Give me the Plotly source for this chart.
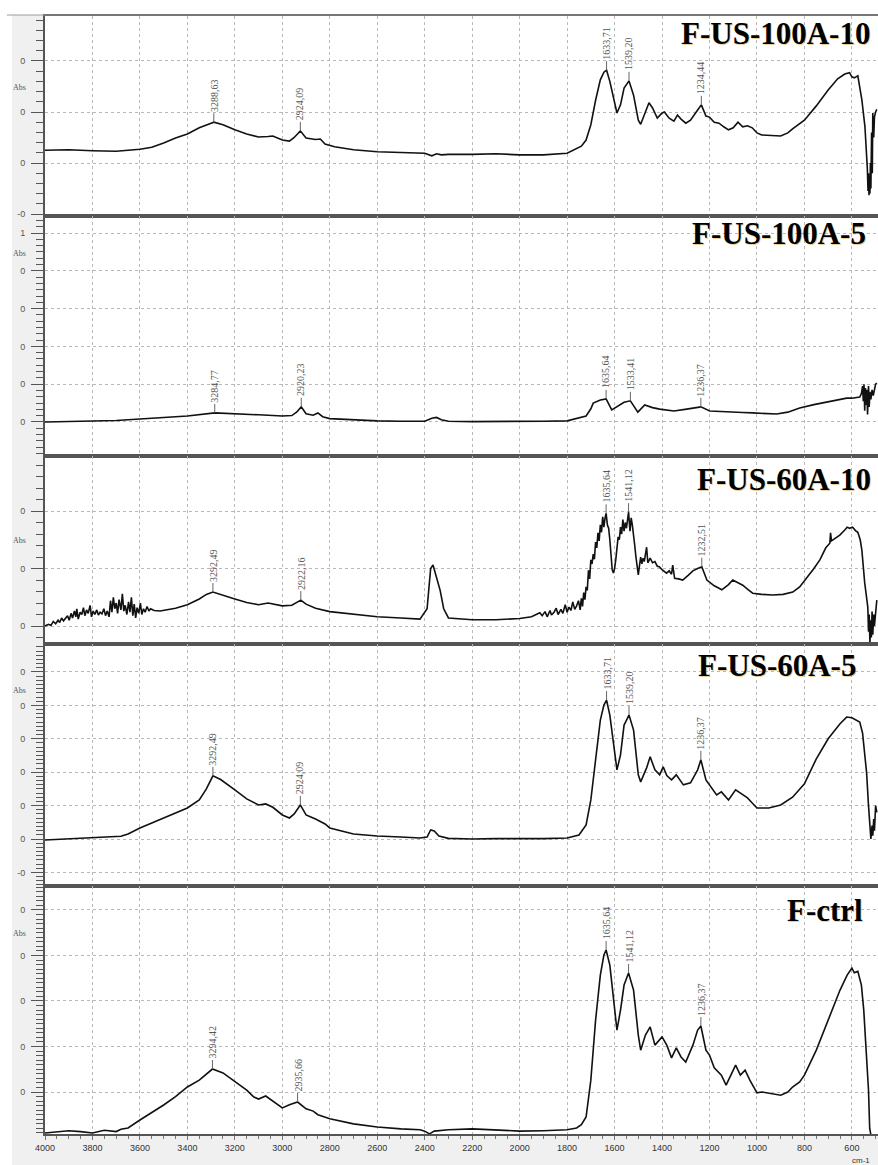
import plotly.graph_objects as go

# ---------------------------------------------------------------------------
# FTIR spectra (wavenumber cm-1, absorbance) for five film samples
# ---------------------------------------------------------------------------
SAMPLES = ["F-US-100A-10", "F-US-100A-5", "F-US-60A-10", "F-US-60A-5", "F-ctrl"]

spec_100a_10 = [
    (4000, 0.025), (3900, 0.026), (3800, 0.024), (3700, 0.023), (3600, 0.027),
    (3550, 0.031), (3500, 0.039), (3450, 0.049), (3400, 0.057), (3350, 0.069),
    (3300, 0.078), (3288.63, 0.080), (3250, 0.075), (3200, 0.065), (3150, 0.057),
    (3100, 0.051), (3060, 0.052), (3040, 0.053), (3000, 0.045), (2970, 0.043),
    (2950, 0.050), (2924.09, 0.063), (2900, 0.049), (2880, 0.047), (2860, 0.046),
    (2840, 0.047), (2820, 0.037), (2780, 0.032), (2700, 0.026), (2600, 0.022),
    (2500, 0.020), (2400, 0.019), (2370, 0.014), (2350, 0.018), (2330, 0.016),
    (2300, 0.017), (2200, 0.017), (2100, 0.018), (2000, 0.016), (1900, 0.016),
    (1800, 0.019), (1760, 0.029), (1740, 0.033), (1720, 0.045), (1700, 0.075),
    (1680, 0.123), (1660, 0.163), (1645, 0.178), (1633.71, 0.182), (1620, 0.160),
    (1600, 0.114), (1590, 0.098), (1575, 0.114), (1560, 0.147), (1539.20, 0.161),
    (1520, 0.133), (1500, 0.084), (1490, 0.076), (1470, 0.100), (1455, 0.118),
    (1440, 0.108), (1420, 0.088), (1400, 0.098), (1390, 0.100), (1370, 0.088),
    (1350, 0.082), (1335, 0.094), (1320, 0.086), (1300, 0.078), (1280, 0.084),
    (1250, 0.104), (1234.44, 0.114), (1215, 0.092), (1200, 0.090), (1180, 0.080),
    (1160, 0.078), (1140, 0.071), (1120, 0.065), (1100, 0.069), (1080, 0.080),
    (1060, 0.071), (1040, 0.073), (1020, 0.069), (1000, 0.059), (980, 0.055),
    (950, 0.054), (900, 0.053), (870, 0.059), (850, 0.067), (800, 0.084),
    (750, 0.112), (700, 0.143), (660, 0.165), (630, 0.1745), (610, 0.177),
    (600, 0.169), (590, 0.167), (575, 0.171), (558, 0.124), (545, 0.071),
    (540, 0.040), (535, -0.010), (532, -0.055), (530, -0.020), (528, -0.063),
    (526, -0.030), (524, -0.060), (522, 0.000), (520, -0.050), (517, 0.060),
    (514, -0.020), (512, 0.098), (508, 0.050), (505, 0.090), (500, 0.100),
    (495, 0.105),
]

spec_100a_5 = [
    (4000, 0.000), (3900, 0.001), (3800, 0.002), (3700, 0.004), (3600, 0.008),
    (3500, 0.012), (3400, 0.016), (3284.77, 0.024), (3200, 0.021), (3100, 0.019),
    (3000, 0.016), (2960, 0.017), (2940, 0.026), (2920.23, 0.040), (2900, 0.022),
    (2870, 0.018), (2850, 0.024), (2830, 0.014), (2800, 0.009), (2700, 0.005),
    (2600, 0.003), (2500, 0.002), (2400, 0.002), (2370, 0.010), (2350, 0.012),
    (2330, 0.006), (2300, 0.002), (2200, 0.001), (2100, 0.001), (2000, 0.001),
    (1900, 0.002), (1800, 0.003), (1770, 0.008), (1746, 0.013), (1720, 0.016),
    (1700, 0.035), (1690, 0.050), (1660, 0.058), (1635.64, 0.061), (1612, 0.032),
    (1590, 0.040), (1560, 0.052), (1533.41, 0.056), (1502, 0.026), (1473, 0.045),
    (1440, 0.038), (1410, 0.034), (1350, 0.029), (1296, 0.034), (1236.37, 0.040),
    (1199, 0.029), (1150, 0.027), (1102, 0.026), (1060, 0.025), (1018, 0.024),
    (917, 0.021), (870, 0.026), (820, 0.037), (760, 0.046), (706, 0.053),
    (660, 0.059), (622, 0.063), (600, 0.063), (580, 0.066), (567, 0.066),
    (560, 0.075), (555, 0.095), (552, 0.055), (549, 0.100), (546, 0.030),
    (543, 0.090), (540, 0.045), (537, 0.085), (534, 0.020), (530, 0.095),
    (527, 0.040), (524, 0.080), (520, 0.060), (515, 0.085), (510, 0.070),
    (505, 0.090), (500, 0.100), (495, 0.103),
]

spec_60a_10 = [
    (4000, 0.000), (3985, 0.003), (3975, 0.001), (3965, 0.008), (3955, 0.004),
    (3945, 0.010), (3938, 0.006), (3930, 0.014), (3922, 0.009), (3915, 0.012),
    (3905, 0.018), (3898, 0.010), (3890, 0.022), (3884, 0.014), (3876, 0.026),
    (3870, 0.016), (3866, 0.030), (3860, 0.012), (3852, 0.024), (3845, 0.020),
    (3838, 0.032), (3832, 0.018), (3825, 0.028), (3818, 0.022), (3810, 0.036),
    (3804, 0.016), (3797, 0.026), (3790, 0.020), (3782, 0.028), (3775, 0.019),
    (3768, 0.024), (3760, 0.021), (3752, 0.030), (3745, 0.018), (3738, 0.026),
    (3730, 0.016), (3724, 0.044), (3718, 0.024), (3712, 0.050), (3706, 0.030),
    (3700, 0.040), (3694, 0.022), (3688, 0.046), (3680, 0.028), (3674, 0.056),
    (3668, 0.026), (3662, 0.036), (3655, 0.020), (3648, 0.042), (3642, 0.024),
    (3636, 0.050), (3630, 0.018), (3624, 0.038), (3618, 0.014), (3612, 0.032),
    (3605, 0.022), (3598, 0.040), (3592, 0.020), (3585, 0.030), (3578, 0.024),
    (3570, 0.034), (3562, 0.026), (3555, 0.030), (3540, 0.027), (3515, 0.026),
    (3450, 0.031), (3400, 0.037), (3350, 0.047), (3320, 0.055), (3292.49, 0.059),
    (3250, 0.053), (3200, 0.047), (3150, 0.041), (3100, 0.037), (3060, 0.040),
    (3030, 0.038), (3000, 0.035), (2960, 0.036), (2940, 0.040), (2922.16, 0.045),
    (2900, 0.038), (2860, 0.031), (2800, 0.025), (2700, 0.020), (2600, 0.016),
    (2500, 0.014), (2420, 0.012), (2390, 0.030), (2375, 0.100), (2365, 0.106),
    (2355, 0.090), (2345, 0.078), (2335, 0.062), (2320, 0.030), (2300, 0.014),
    (2200, 0.011), (2100, 0.011), (2000, 0.013), (1950, 0.016), (1915, 0.023),
    (1905, 0.018), (1893, 0.025), (1884, 0.016), (1872, 0.027), (1866, 0.019),
    (1855, 0.024), (1846, 0.031), (1838, 0.020), (1826, 0.029), (1818, 0.022),
    (1808, 0.037), (1800, 0.024), (1792, 0.033), (1784, 0.027), (1776, 0.042),
    (1768, 0.029), (1760, 0.035), (1752, 0.044), (1745, 0.028), (1740, 0.048),
    (1735, 0.034), (1730, 0.058), (1725, 0.046), (1720, 0.068), (1715, 0.062),
    (1710, 0.097), (1705, 0.082), (1700, 0.115), (1695, 0.108), (1690, 0.125),
    (1685, 0.116), (1680, 0.146), (1675, 0.136), (1670, 0.162), (1665, 0.148),
    (1660, 0.176), (1655, 0.163), (1650, 0.190), (1645, 0.172), (1640, 0.188),
    (1635.64, 0.196), (1630, 0.175), (1625, 0.170), (1620, 0.150), (1615, 0.120),
    (1610, 0.098), (1605, 0.092), (1600, 0.100), (1595, 0.115), (1590, 0.140),
    (1585, 0.155), (1580, 0.150), (1575, 0.172), (1570, 0.160), (1565, 0.185),
    (1560, 0.165), (1555, 0.180), (1550, 0.170), (1545, 0.190), (1541.12, 0.198),
    (1535, 0.165), (1530, 0.188), (1525, 0.175), (1520, 0.160), (1515, 0.140),
    (1510, 0.120), (1505, 0.100), (1500, 0.089), (1495, 0.105), (1490, 0.120),
    (1485, 0.108), (1480, 0.118), (1475, 0.112), (1470, 0.125), (1465, 0.137),
    (1460, 0.110), (1450, 0.118), (1440, 0.110), (1430, 0.112), (1420, 0.104),
    (1412, 0.103), (1400, 0.098), (1390, 0.095), (1381, 0.092), (1370, 0.096),
    (1360, 0.090), (1355, 0.106), (1347, 0.083), (1330, 0.082), (1313, 0.080),
    (1290, 0.088), (1270, 0.096), (1250, 0.100), (1232.51, 0.103), (1211, 0.080),
    (1180, 0.070), (1148, 0.063), (1120, 0.072), (1102, 0.080), (1080, 0.075),
    (1060, 0.071), (1040, 0.064), (1018, 0.057), (980, 0.055), (934, 0.054),
    (890, 0.055), (849, 0.059), (820, 0.068), (790, 0.083), (760, 0.100),
    (735, 0.115), (710, 0.136), (693, 0.144), (690, 0.162), (686, 0.148),
    (670, 0.152), (651, 0.158), (630, 0.167), (620, 0.172), (610, 0.170),
    (597, 0.172), (585, 0.166), (575, 0.163), (565, 0.150), (558, 0.132),
    (546, 0.075), (540, 0.050), (533, 0.033), (530, -0.010), (527, 0.020),
    (524, -0.030), (521, 0.010), (518, -0.020), (515, 0.025), (512, -0.015),
    (508, 0.020), (505, 0.000), (500, 0.030), (495, 0.045),
]

spec_60a_5 = [
    (4000, -0.003), (3900, 0.000), (3850, 0.002), (3800, 0.004), (3750, 0.004),
    (3700, 0.007), (3680, 0.008), (3650, 0.015), (3600, 0.033), (3550, 0.048),
    (3500, 0.063), (3450, 0.078), (3400, 0.093), (3350, 0.117), (3320, 0.150),
    (3292.49, 0.189), (3260, 0.178), (3200, 0.147), (3150, 0.120), (3100, 0.102),
    (3070, 0.105), (3040, 0.095), (3000, 0.072), (2970, 0.063), (2950, 0.075),
    (2924.09, 0.102), (2900, 0.072), (2880, 0.066), (2860, 0.060), (2820, 0.045),
    (2800, 0.033), (2700, 0.015), (2600, 0.009), (2500, 0.006), (2420, 0.003),
    (2390, 0.006), (2375, 0.027), (2360, 0.024), (2340, 0.009), (2300, 0.002),
    (2200, 0.000), (2100, 0.001), (2000, 0.000), (1900, 0.001), (1800, 0.003),
    (1750, 0.012), (1720, 0.042), (1700, 0.117), (1680, 0.237), (1660, 0.356),
    (1645, 0.401), (1633.71, 0.416), (1620, 0.371), (1600, 0.252), (1590, 0.207),
    (1575, 0.252), (1560, 0.341), (1539.20, 0.371), (1520, 0.326), (1500, 0.192),
    (1490, 0.171), (1465, 0.213), (1450, 0.246), (1430, 0.207), (1410, 0.192),
    (1395, 0.216), (1380, 0.190), (1360, 0.177), (1340, 0.192), (1310, 0.162),
    (1280, 0.168), (1250, 0.207), (1236.37, 0.237), (1215, 0.177), (1200, 0.162),
    (1170, 0.132), (1150, 0.141), (1120, 0.117), (1090, 0.147), (1060, 0.132),
    (1040, 0.123), (1020, 0.108), (1000, 0.093), (950, 0.093), (900, 0.102),
    (850, 0.125), (800, 0.165), (750, 0.240), (700, 0.300), (650, 0.345),
    (622, 0.365), (600, 0.363), (580, 0.356), (567, 0.350), (555, 0.317),
    (545, 0.250), (538, 0.198), (530, 0.100), (525, 0.050), (520, 0.000),
    (515, 0.040), (512, 0.010), (508, 0.060), (505, 0.025), (500, 0.100),
    (495, 0.080),
]

spec_ctrl = [
    (4000, -0.090), (3950, -0.088), (3900, -0.085), (3850, -0.087), (3800, -0.090),
    (3750, -0.084), (3700, -0.087), (3680, -0.082), (3650, -0.079), (3600, -0.0615),
    (3550, -0.045), (3500, -0.0286), (3450, -0.010), (3400, 0.011), (3350, 0.026),
    (3320, 0.040), (3294.42, 0.0505), (3250, 0.042), (3200, 0.022), (3150, 0.004),
    (3120, -0.011), (3100, -0.0154), (3070, -0.0088), (3040, -0.020), (3000, -0.035),
    (2970, -0.028), (2935.66, -0.022), (2900, -0.037), (2870, -0.042), (2850, -0.050),
    (2800, -0.059), (2700, -0.070), (2600, -0.077), (2500, -0.081), (2420, -0.083),
    (2400, -0.086), (2380, -0.092), (2360, -0.086), (2300, -0.083), (2200, -0.081),
    (2100, -0.083), (2000, -0.086), (1900, -0.085), (1800, -0.083), (1760, -0.079),
    (1740, -0.072), (1720, -0.055), (1710, -0.018), (1700, 0.026), (1680, 0.158),
    (1660, 0.257), (1645, 0.301), (1635.64, 0.312), (1620, 0.279), (1600, 0.180),
    (1590, 0.136), (1575, 0.180), (1560, 0.235), (1541.12, 0.2615), (1520, 0.224),
    (1500, 0.125), (1490, 0.092), (1470, 0.125), (1450, 0.143), (1430, 0.103),
    (1400, 0.121), (1380, 0.103), (1360, 0.075), (1340, 0.097), (1320, 0.077),
    (1300, 0.066), (1270, 0.103), (1250, 0.136), (1236.37, 0.145), (1215, 0.092),
    (1200, 0.081), (1180, 0.053), (1150, 0.037), (1130, 0.015), (1110, 0.037),
    (1090, 0.059), (1070, 0.037), (1050, 0.048), (1030, 0.026), (1000, -0.002),
    (980, 0.000), (950, -0.002), (900, -0.007), (870, 0.000), (850, 0.011),
    (820, 0.022), (800, 0.037), (750, 0.092), (700, 0.158), (650, 0.224),
    (620, 0.257), (600, 0.2725), (590, 0.262), (575, 0.265), (560, 0.235),
    (550, 0.180), (540, 0.092), (530, 0.004), (525, -0.080), (522, -0.094),
    (520, -0.094),
]

SPECTRA = [spec_100a_10, spec_100a_5, spec_60a_10, spec_60a_5, spec_ctrl]

# labelled band positions (cm-1) for each sample
PEAKS = [
    [3288.63, 2924.09, 1633.71, 1539.20, 1234.44],
    [3284.77, 2920.23, 1635.64, 1533.41, 1236.37],
    [3292.49, 2922.16, 1635.64, 1541.12, 1232.51],
    [3292.49, 2924.09, 1633.71, 1539.20, 1236.37],
    [3294.42, 2935.66, 1635.64, 1541.12, 1236.37],
]

# absorbance axis: tick positions and the (rounded) labels printed by the instrument
Y_TICKVALS = [
    [0.2, 0.1, 0.0, -0.1],
    [0.5, 0.4, 0.3, 0.2, 0.1, 0.0],
    [0.2, 0.1, 0.0],
    [0.5, 0.4, 0.3, 0.2, 0.1, 0.0, -0.1],
    [0.4, 0.3, 0.2, 0.1, 0.0],
]
Y_TICKTEXT = [
    ["0", "0", "0", "-0"],
    ["1", "0", "0", "0", "0", "0"],
    ["0", "0", "0"],
    ["0", "0", "0", "0", "0", "0", "-0"],
    ["0", "0", "0", "0", "0"],
]
Y_RANGES = [
    [-0.1039, 0.2882],
    [-0.0900, 0.5450],
    [-0.0313, 0.2957],
    [-0.1407, 0.5838],
    [-0.0923, 0.4527],
]
Y_MINOR = [0.02, 1 / 60, 0.02, 0.0125, 0.01]

X_TICKS = list(range(4000, 599, -200))
X_RANGE = [4000, 490]

# ---------------------------------------------------------------------------
# layout geometry (pixels)
# ---------------------------------------------------------------------------
W, H = 878, 1165
ML, MR, MT, MB = 45, 0, 16, 31
PW, PH = W - ML - MR, H - MT - MB
PANEL_EDGES = [16, 216, 456, 644, 886, 1134]


def px_x(px):
    return (px - ML) / PW


def px_y(py):
    return (H - MB - py) / PH


TITLE_POS = [(872, 33), (868, 234), (873, 479), (858, 666), (865, 910)]
ABS_Y = [88, 253, 540, 690, 933]

AX_COL = "#555555"
GRID_COL = "#b8b8b8"

fig = go.Figure()
annotations = []
shapes = []

for i, (name, spec) in enumerate(zip(SAMPLES, SPECTRA), start=1):
    wn = [p[0] for p in spec]
    ab = [p[1] for p in spec]
    xa, ya = f"x{i}", f"y{i}"
    fig.add_trace(go.Scatter(
        x=wn, y=ab, mode="lines",
        line=dict(color="#111111", width=1.6),
        xaxis=xa, yaxis=ya, showlegend=False, hoverinfo="skip",
    ))

    top, bot = PANEL_EDGES[i - 1], PANEL_EDGES[i]
    last = i == len(SAMPLES)
    xkey = "xaxis" if i == 1 else f"xaxis{i}"
    ykey = "yaxis" if i == 1 else f"yaxis{i}"

    xcfg = dict(
        domain=[0, 1], anchor=ya, range=X_RANGE,
        tickmode="array", tickvals=X_TICKS,
        showgrid=True, gridcolor=GRID_COL, gridwidth=1, griddash="dot",
        zeroline=False, showline=True, linecolor=AX_COL, linewidth=2, mirror=True,
        showticklabels=last,
        ticks="outside" if last else "", ticklen=4, tickcolor="#777777",
        tickfont=dict(family="Liberation Sans", size=9, color="#333333"),
    )
    if last:
        xcfg["minor"] = dict(tickmode="linear", tick0=4000, dtick=50,
                             ticks="outside", ticklen=3, tickcolor="#777777",
                             showgrid=False)
    fig.layout[xkey] = xcfg

    fig.layout[ykey] = dict(
        domain=[px_y(bot), px_y(top)], anchor=xa, range=Y_RANGES[i - 1],
        tickmode="array", tickvals=Y_TICKVALS[i - 1], ticktext=Y_TICKTEXT[i - 1],
        ticks="outside", ticklen=12, tickwidth=1, tickcolor=AX_COL,
        ticklabelstandoff=4,
        tickfont=dict(family="Liberation Sans", size=9, color="#555555"),
        showgrid=True, gridcolor=GRID_COL, gridwidth=1, griddash="dot",
        zeroline=False, showline=True, linecolor=AX_COL, linewidth=2,
        minor=dict(tickmode="linear", tick0=0, dtick=Y_MINOR[i - 1],
                   ticks="outside", ticklen=7, tickcolor=AX_COL, showgrid=False),
    )

    # sample name
    tx, ty = TITLE_POS[i - 1]
    annotations.append(dict(
        xref="paper", yref="paper", x=px_x(tx), y=px_y(ty),
        xanchor="right", yanchor="middle", showarrow=False,
        text=f"<b>{name}</b>",
        font=dict(family="Liberation Serif", size=31, color="#000000",
                  shadow="1px 1px 0px rgba(205,150,30,0.45)"),
    ))
    # "Abs" axis caption
    annotations.append(dict(
        xref="paper", yref="paper", x=px_x(19), y=px_y(ABS_Y[i - 1]),
        xanchor="center", yanchor="middle", showarrow=False, text="Abs",
        font=dict(family="Liberation Serif", size=8, color="#555555"),
    ))
    # peak markers
    lookup = dict(zip(wn, ab))
    for p in PEAKS[i - 1]:
        annotations.append(dict(
            xref=xa, yref=ya, x=p, y=lookup[p],
            text=f"{p:.2f}".replace(".", ","), textangle=-90,
            showarrow=True, arrowhead=0, arrowwidth=1, arrowcolor="#666666",
            ax=0, ay=-27, standoff=0,
            font=dict(family="Liberation Serif", size=10, color="#555555"),
        ))

annotations.append(dict(
    xref="paper", yref="paper", x=px_x(861), y=px_y(1160),
    xanchor="center", yanchor="middle", showarrow=False, text="cm-1",
    font=dict(family="Liberation Sans", size=8, color="#333333"),
))

# window chrome: white strip on top and on the far left, thin top rule
shapes += [
    dict(type="rect", xref="paper", yref="paper", layer="below",
         x0=px_x(0), x1=px_x(W), y0=px_y(15), y1=px_y(0),
         fillcolor="#ffffff", line=dict(width=0)),
    dict(type="rect", xref="paper", yref="paper", layer="below",
         x0=px_x(0), x1=px_x(12), y0=px_y(H), y1=px_y(0),
         fillcolor="#ffffff", line=dict(width=0)),
    dict(type="line", xref="paper", yref="paper",
         x0=px_x(7), x1=px_x(W), y0=px_y(15), y1=px_y(15),
         line=dict(color="#9a9a9a", width=1)),
]

fig.update_layout(
    width=W, height=H, autosize=False,
    margin=dict(l=ML, r=MR, t=MT, b=MB, pad=0),
    paper_bgcolor="#f0f0f0", plot_bgcolor="#ffffff",
    annotations=annotations, shapes=shapes,
    showlegend=False,
)

fig.write_html("out.html")
